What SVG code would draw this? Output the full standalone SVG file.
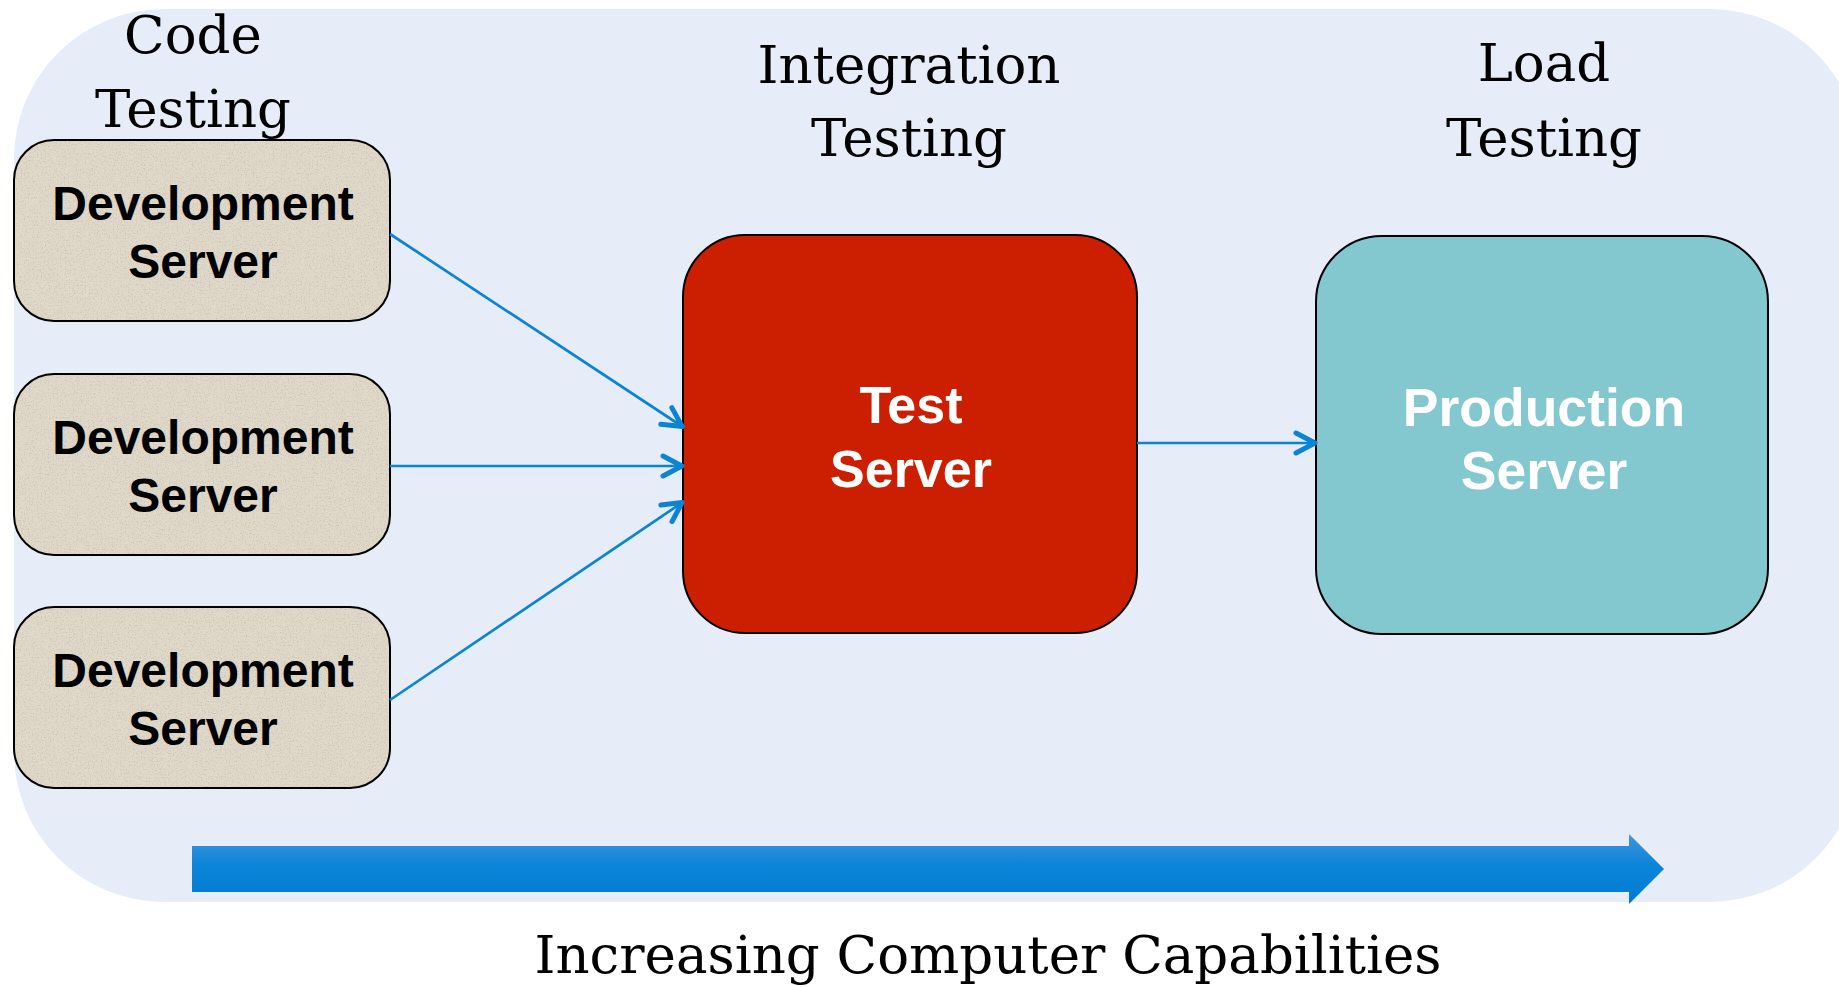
<svg xmlns="http://www.w3.org/2000/svg" width="1839" height="987" viewBox="0 0 1839 987">
  <style>
    .stage { font-family: "DejaVu Serif", "Liberation Serif", serif; font-size: 53px; fill: #000; text-anchor: middle; }
    .lbl { font-family: "Liberation Sans", Arial, sans-serif; font-weight: bold; text-anchor: middle; }
    .dev-text { font-size: 48px; fill: #000; }
    .srv-text { font-size: 52px; fill: #fff; }
    .prod-text { font-size: 53.5px; fill: #fff; }
    .edge { fill: none; stroke: #0B84D3; stroke-width: 2.7; }
    .box { stroke: #000; stroke-width: 2; }
  </style>
  <defs>
    <marker id="chev" markerUnits="userSpaceOnUse" markerWidth="30" markerHeight="30" viewBox="-26 -15 30 30" refX="0" refY="0" orient="auto">
      <path d="M -20 -10 L -1 0 L -20 10" fill="none" stroke="#0B84D3" stroke-width="5" stroke-linecap="round" stroke-linejoin="round"/>
    </marker>
    <linearGradient id="bigArrow" x1="0" y1="0" x2="0" y2="1">
      <stop offset="0" stop-color="#5AA2E0"/>
      <stop offset="0.08" stop-color="#3A90DB"/>
      <stop offset="0.45" stop-color="#0A85D8"/>
      <stop offset="1" stop-color="#007BD2"/>
    </linearGradient>
    <filter id="grain" x="0" y="0" width="1" height="1">
      <feTurbulence type="fractalNoise" baseFrequency="0.75" numOctaves="2" seed="7" result="noise"/>
      <feColorMatrix in="noise" type="matrix" values="0 0 0 0 0.50  0 0 0 0 0.46  0 0 0 0 0.40  0 0 0 2.0 -1.0" result="speck"/>
      <feComposite in="speck" in2="SourceGraphic" operator="in" result="speckIn"/>
      <feMerge>
        <feMergeNode in="SourceGraphic"/>
        <feMergeNode in="speckIn"/>
      </feMerge>
    </filter>
  </defs>

  <!-- backdrop panel -->
  <rect x="14" y="9" width="1846" height="893" rx="150" ry="150" fill="#E6EDF8"/>

  <!-- stage headings -->
  <g id="stage-code">
    <text class="stage" x="193" y="53">Code</text>
    <text class="stage" x="193" y="127">Testing</text>
  </g>
  <g id="stage-integration">
    <text class="stage" x="909" y="83">Integration</text>
    <text class="stage" x="909" y="156">Testing</text>
  </g>
  <g id="stage-load">
    <text class="stage" x="1544" y="81">Load</text>
    <text class="stage" x="1544" y="156">Testing</text>
  </g>

  <!-- development servers -->
  <g id="dev1">
    <rect x="14" y="140" width="376" height="181" rx="40" fill="#E0D8C9" filter="url(#grain)"/>
    <rect class="box" x="14" y="140" width="376" height="181" rx="40" fill="none"/>
    <text class="lbl dev-text" x="203" y="220">Development</text>
    <text class="lbl dev-text" x="203" y="278">Server</text>
  </g>
  <g id="dev2">
    <rect x="14" y="374" width="376" height="181" rx="40" fill="#E0D8C9" filter="url(#grain)"/>
    <rect class="box" x="14" y="374" width="376" height="181" rx="40" fill="none"/>
    <text class="lbl dev-text" x="203" y="454">Development</text>
    <text class="lbl dev-text" x="203" y="512">Server</text>
  </g>
  <g id="dev3">
    <rect x="14" y="607" width="376" height="181" rx="40" fill="#E0D8C9" filter="url(#grain)"/>
    <rect class="box" x="14" y="607" width="376" height="181" rx="40" fill="none"/>
    <text class="lbl dev-text" x="203" y="687">Development</text>
    <text class="lbl dev-text" x="203" y="745">Server</text>
  </g>

  <!-- test server -->
  <g id="test-server">
    <rect class="box" x="683" y="235" width="454" height="398" rx="62" fill="#CC1E00"/>
    <text class="lbl srv-text" x="911" y="423">Test</text>
    <text class="lbl srv-text" x="911" y="487">Server</text>
  </g>

  <!-- production server -->
  <g id="production-server">
    <rect class="box" x="1316" y="236" width="452" height="398" rx="66" fill="#83C8CE"/>
    <text class="lbl prod-text" x="1544" y="426">Production</text>
    <text class="lbl prod-text" x="1544" y="489">Server</text>
  </g>

  <!-- connectors -->
  <g id="connectors">
    <line class="edge" x1="390" y1="234" x2="683" y2="427" marker-end="url(#chev)"/>
    <line class="edge" x1="390" y1="466" x2="683" y2="466" marker-end="url(#chev)"/>
    <line class="edge" x1="390" y1="700" x2="683" y2="502" marker-end="url(#chev)"/>
    <line class="edge" x1="1137" y1="443" x2="1316" y2="443" marker-end="url(#chev)"/>
  </g>

  <!-- capability arrow -->
  <g id="capability-arrow">
    <polygon points="192,846 1629,846 1629,834 1664,869 1629,904 1629,892 192,892" fill="url(#bigArrow)"/>
    <text class="stage" x="988" y="973">Increasing Computer Capabilities</text>
  </g>
</svg>
